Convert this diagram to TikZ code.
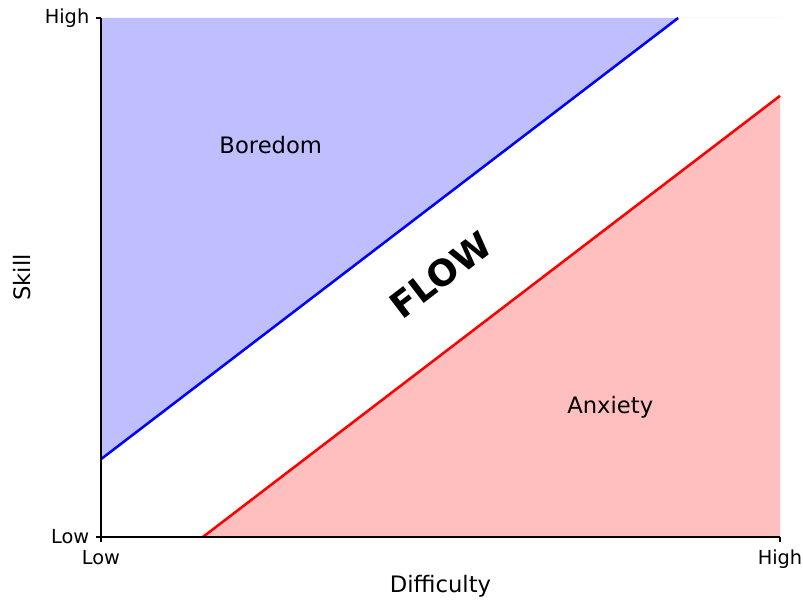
\documentclass[tikz,border=0pt]{standalone}
\usepackage{fontspec}
\setmainfont{DejaVu Sans}
\usepackage{tikz}
\usetikzlibrary{positioning}
\definecolor{borefill}{HTML}{BFBFFF}
\definecolor{anxfill}{HTML}{FFBFBF}

\begin{document}
\begin{tikzpicture}[
    x=50.925pt, y=38.925pt,
    spine/.style={line width=0.9pt, black},
    tick/.style={line width=0.9pt, black},
    ticklabel/.style={font=\fontsize{14.5pt}{16pt}\selectfont, inner sep=0pt},
    axislabel/.style={font=\fontsize{17pt}{19pt}\selectfont, inner sep=0pt},
    zone/.style={font=\fontsize{17pt}{19pt}\selectfont},
    edge/.style={line width=1.9pt}
]
    \useasboundingbox (-75.75pt,-48pt) rectangle (526.5pt,402.75pt);

    % corners of the plot
    \coordinate (O) at (0,0);
    \coordinate (xmax) at (10,0);
    \coordinate (ymax) at (0,10);
    \coordinate (top) at (10,10);
    % flow channel edges
    \coordinate (b0) at (0,1.5);
    \coordinate (b1) at (8.5,10);
    \coordinate (r0) at (1.5,0);
    \coordinate (r1) at (10,8.5);

    \fill[borefill] (b0) -- (b1) -- (top) -- (ymax) -- cycle;
    \fill[anxfill] (r0) -- (r1) -- (xmax) -- cycle;
    \draw[edge, blue] (b0) -- (b1);
    \draw[edge, red] (r0) -- (r1);

    % axes
    \draw[spine] (ymax) -- (O) -- (xmax);
    \draw[tick] (O) -- ++(-3.6pt,0) coordinate (ylo);
    \draw[tick] (ymax) -- ++(-3.6pt,0) coordinate (yhi);
    \draw[tick] (O) -- ++(0,-3.6pt) coordinate (xlo);
    \draw[tick] (xmax) -- ++(0,-3.6pt) coordinate (xhi);

    \node[ticklabel, left=5pt of ylo] (ylow) {Low};
    \node[ticklabel, left=5pt of yhi] (yhigh) {High};
    \node[ticklabel, below=6pt of xlo] (xlow) {Low};
    \node[ticklabel, below=6pt of xhi] (xhigh) {High};

    \coordinate (dpos) at ([yshift=-36.7pt]5,0);
    \coordinate (spos) at ([xshift=-59.2pt]0,5);
    \node[axislabel] (diff) at (dpos) {Difficulty};
    \node[axislabel, rotate=90] (skill) at (spos) {Skill};

    \node[zone] (bore) at (2.5,7.55) {Boredom};
    \node[zone] (anx) at (7.5,2.5) {Anxiety};
    \node[font=\bfseries\fontsize{27pt}{30pt}\selectfont, rotate=37.4, inner sep=0pt] (flow) at (5,5.05) {FLOW};
\end{tikzpicture}
\end{document}
